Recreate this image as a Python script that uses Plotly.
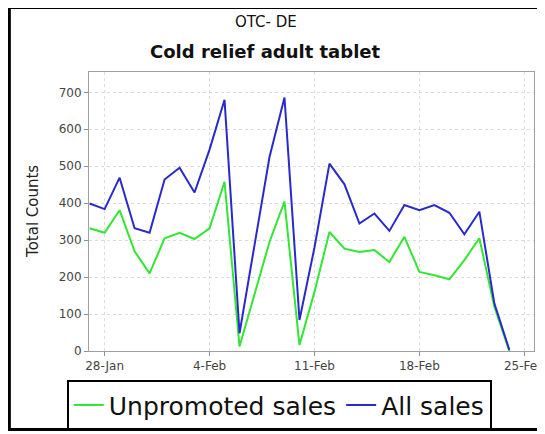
import plotly.graph_objects as go
import pandas as pd

# daily dates, 27-Jan .. 24-Feb
dates = pd.date_range("2013-01-27", "2013-02-24", freq="D")

unpromoted = [332, 320, 381, 270, 210, 305, 320, 303, 332, 458,
              12, 150, 295, 404, 16, 160, 322, 277, 268, 273,
              241, 309, 214, 205, 194, 246, 305, 120, 0]

all_sales = [399, 384, 469, 332, 320, 464, 496, 429, 545, 680,
             48, 290, 525, 686, 84, 280, 507, 451, 345, 372,
             325, 395, 381, 395, 374, 316, 377, 129, 3]

subtitle = "OTC- DE"
title = "Cold relief adult tablet"
y_label = "Total Counts"

fig = go.Figure()

fig.add_trace(go.Scatter(
    x=dates, y=unpromoted, name="Unpromoted sales",
    mode="lines", line=dict(color="#33e633", width=2)
))
fig.add_trace(go.Scatter(
    x=dates, y=all_sales, name="All sales",
    mode="lines", line=dict(color="#2a2acc", width=2)
))

axis_style = dict(
    showline=True, linecolor="#a0a0a0", linewidth=1, mirror=True,
    ticks="outside", ticklen=4, tickcolor="#909090",
    showgrid=True, gridcolor="#dcdcdc", griddash="dot", gridwidth=1,
    tickfont=dict(family="DejaVu Sans", size=12, color="#444444"),
    zeroline=False,
)

# page body has an 8px margin, so the figure is 8px smaller than the window
fig.update_layout(
    width=537, height=426,
    margin=dict(l=81, r=0, t=64, b=83),
    paper_bgcolor="white", plot_bgcolor="white",
    showlegend=True,
    legend=dict(
        orientation="h", x=-0.05, y=-0.105, xanchor="left", yanchor="top",
        bordercolor="black", borderwidth=2, bgcolor="white",
        font=dict(family="DejaVu Sans", size=25, color="#111111"),
        itemwidth=30, tracegroupgap=0,
    ),
    xaxis=dict(
        range=["2013-01-26 23:00", "2013-02-25 15:30"],
        tick0="2013-01-28", dtick=7 * 24 * 3600 * 1000,
        tickformat="%-d-%b", ticklabeloverflow="allow",
        **axis_style
    ),
    yaxis=dict(range=[0, 755], dtick=100, **axis_style),
    annotations=[
        dict(text=subtitle, xref="paper", yref="paper", x=0.397, y=1.179,
             xanchor="center", yanchor="middle", showarrow=False,
             font=dict(family="DejaVu Sans", size=15, color="#111111")),
        dict(text="<b>" + title + "</b>", xref="paper", yref="paper", x=0.397, y=1.072,
             xanchor="center", yanchor="middle", showarrow=False,
             font=dict(family="DejaVu Sans", size=18, color="#111111")),
        dict(text=y_label, xref="paper", yref="paper", x=-0.127, y=0.5,
             xanchor="center", yanchor="middle", showarrow=False, textangle=-90,
             font=dict(family="DejaVu Sans", size=15, color="#222222")),
    ],
    shapes=[
        # outer black frame of the image
        dict(type="rect", xref="paper", yref="paper",
             x0=-0.179, x1=1.05, y0=-0.281, y1=1.231,
             line=dict(color="black", width=3), layer="below"),
    ],
)

fig.write_html("out.html")
